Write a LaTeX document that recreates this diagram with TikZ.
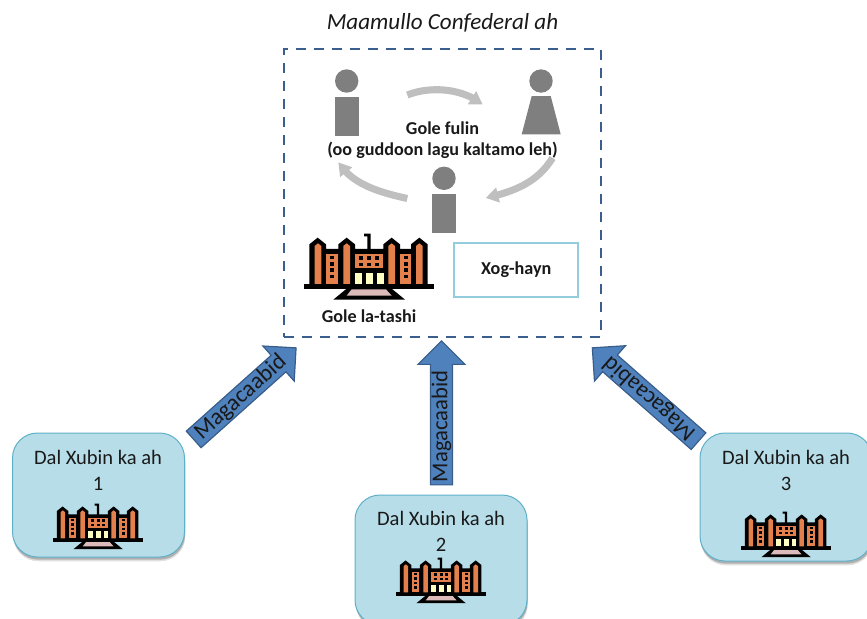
\documentclass[tikz,border=0pt]{standalone}
\usepackage{fontspec}
\setmainfont{Carlito}
\usetikzlibrary{shapes.arrows,shadows,arrows.meta,bending}
\definecolor{dashblue}{HTML}{3A5F8F}
\definecolor{arrowfill}{HTML}{4F81BD}
\definecolor{arrowline}{HTML}{385D8A}
\definecolor{memberfill}{HTML}{B7DDE8}
\definecolor{memberline}{HTML}{5FB0C9}
\definecolor{persongray}{HTML}{7F7F7F}
\definecolor{flowgray}{HTML}{BFBFBF}
\definecolor{wallorange}{HTML}{E4804C}
\definecolor{dooryellow}{HTML}{FFFFC4}
\definecolor{steppink}{HTML}{DDBBBB}
\definecolor{secline}{HTML}{93CDDD}
\tikzset{
  x=0.75pt,y=-0.75pt,
  memberbox/.style={rounded corners=18.75pt,draw=memberline,line width=0.75pt,fill=memberfill,
    inner sep=0pt,
    general shadow={fill=black,opacity=.12,shadow yshift=-3.2pt,shadow xshift=.6pt},
    general shadow={fill=black,opacity=.22,shadow yshift=-2pt,shadow xshift=.4pt}},
  membertext/.style={font=\fontsize{15.4}{18}\selectfont,text=black!90,inner sep=0pt},
  boldtext/.style={font=\fontsize{13.6}{16}\selectfont\bfseries,text=black!90,inner sep=0pt},
  blockarrow/.style={single arrow,draw=arrowline,line width=0.9pt,fill=arrowfill,inner sep=0pt,
    minimum width=35.25pt,single arrow head extend=9pt,single arrow head indent=0pt,
    single arrow tip angle=90,anchor=tip,
    font=\fontsize{17}{20}\selectfont,text=black!90},
  flowarrow/.style={draw=flowgray,line width=5.3pt,-{Triangle[length=9.5pt,width=11pt,flex]}},
  person/.style={fill=persongray,draw=none},
  school/.pic={
    \begin{scope}[shift={(-237,-130)}]
      % silhouette
      \fill[black] (58,177) -- (58,58) -- (83,38) -- (108,58) -- (108,72) -- (145,72) -- (145,58)
        -- (170,38) -- (195,58) -- (195,72) -- (232,72) -- (232,34) -- (222,34) -- (222,26) -- (242,26)
        -- (242,72) -- (280,72) -- (280,58) -- (305,38) -- (330,58) -- (330,72) -- (363,72)
        -- (363,58) -- (388,38) -- (413,58) -- (413,177) -- cycle;
      \fill[black] (42,177) rectangle (432,191);
      \fill[black] (170,191) -- (305,191) -- (345,224) -- (130,224) -- cycle;
      \fill[steppink] (185,193) -- (288,193) -- (305,212) -- (170,212) -- cycle;
      % towers
      \foreach \tx in {84,170,305,388}
        \fill[wallorange] (\tx-10,177) -- (\tx-10,63) -- (\tx,55) -- (\tx+10,63) -- (\tx+10,177) -- cycle;
      % wings
      \foreach \wx in {109,330}{
        \fill[wallorange] (\wx,88) rectangle (\wx+34,177);
        \foreach \wy in {111,130,149}
          \fill[black] (\wx+11,\wy) rectangle (\wx+23,\wy+11);
        \fill[black] (\wx+11,92) rectangle (\wx+23,103);
      }
      % centre
      \fill[wallorange] (195,88) rectangle (280,130);
      \foreach \cx in {206,231,255}
        \foreach \cy in {93,113}
          \fill[black] (\cx,\cy) rectangle (\cx+13,\cy+11);
      \foreach \dx in {195,228,262}
        \fill[dooryellow] (\dx,143) rectangle (\dx+20,177);
    \end{scope}
  }
}
\begin{document}
\begin{tikzpicture}
\useasboundingbox (0,0) rectangle (867,618);
\clip (0,0) rectangle (867,618);

% confederal frame
\node[draw=dashblue,line width=2pt,dash pattern=on 7.5pt off 6pt,minimum width=237.75pt,minimum height=216pt,inner sep=0pt] (frame) at (442.5,193) {};
\node[font=\fontsize{17.3}{20}\selectfont\itshape,text=black!90,inner sep=0pt] (title) at (442.5,23) {Maamullo Confederal ah};

% persons
\fill[person] (346.7,81) circle[radius=11.7];
\node[person,minimum width=18pt,minimum height=29.5pt,inner sep=0pt] (p1) at (347,116.4) {};
\fill[person] (541,81) circle[radius=11.7];
\fill[person] (531.7,96) -- (550.7,96) -- (560.7,134.3) -- (521.7,134.3) -- cycle;
\coordinate (p2) at (541,115);
\fill[person] (444,178.3) circle[radius=11.7];
\node[person,minimum width=18pt,minimum height=29pt,inner sep=0pt] (p3) at (444,213.3) {};

% circulation arrows
\coordinate (a1) at (407.3,95);
\coordinate (a2) at (482.7,104.5);
\coordinate (b1) at (552.5,158);
\coordinate (b2) at (485.7,198);
\coordinate (c1) at (407.3,198.5);
\coordinate (c2) at (338.3,162.3);
\draw[flowarrow] (a1) .. controls (430,86) and (462,88) .. (a2);
\draw[flowarrow] (b1) .. controls (540,178) and (522,190) .. (b2);
\draw[flowarrow] (c1) .. controls (378,192) and (352,184) .. (c2);

\node[boldtext,align=center] (council) at (442.5,140.5) {Gole fulin\\[0pt](oo guddoon lagu kaltamo leh)};

% secretariat and assembly
\node[draw=secline,line width=1.8pt,fill=white,minimum width=93pt,minimum height=40.5pt,inner sep=0pt,boldtext] (sec) at (516.2,270) {Xog-hayn};
\pic at (369,268.3) [scale=0.3333] {school};
\node[boldtext] (assembly) at (369,316) {Gole la-tashi};

% member states
\node[memberbox,minimum width=129pt,minimum height=93pt] (m1) at (98.5,495) {};
\node[memberbox,minimum width=129pt,minimum height=97.5pt] (m2) at (441,560) {};
\node[memberbox,minimum width=129pt,minimum height=96pt] (m3) at (786,497) {};

\node[membertext,align=center] (t1) at (98,470) {Dal Xubin ka ah\\[1.5pt]1};
\node[membertext,align=center] (t2) at (441,531) {Dal Xubin ka ah\\[1.5pt]2};
\node[membertext,align=center] (t3) at (786,470) {Dal Xubin ka ah\\[1.5pt]3};

\pic at (98,527.6) [scale=0.23] {school};
\pic at (441,581.6) [scale=0.23] {school};
\pic at (786,535.6) [scale=0.23] {school};

% appointment arrows
\node[blockarrow,minimum height=103pt,rotate=41.8,font=\fontsize{17.5}{20}\selectfont] (n1) at (296.7,347.3) {Magacaabid};
\node[blockarrow,minimum height=108pt,rotate=90] (n2) at (441.5,340) {Magacaabid\rule{12pt}{0pt}};
\node[blockarrow,minimum height=106pt,rotate=138.7,font=\fontsize{17.5}{20}\selectfont] (n3) at (591.7,347.3) {Magacaabid};
\end{tikzpicture}
\end{document}
